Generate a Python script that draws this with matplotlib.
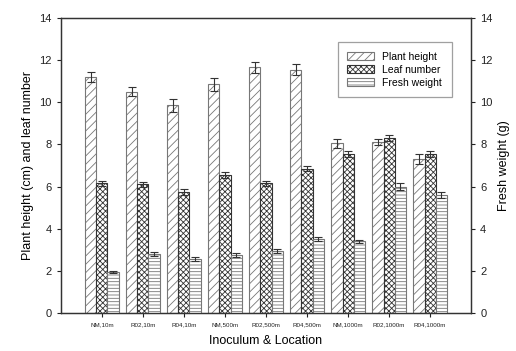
import matplotlib
matplotlib.use("Agg")
import matplotlib.pyplot as plt
import numpy as np

plt.rcParams['font.family'] = ['Liberation Sans', 'DejaVu Sans']
plt.rcParams['hatch.linewidth'] = 0.6

categories = ["NM,10m", "R02,10m", "R04,10m", "NM,500m", "R02,500m",
              "R04,500m", "NM,1000m", "R02,1000m", "R04,1000m"]
plant_height = [11.2, 10.5, 9.85, 10.85, 11.65, 11.55, 8.05, 8.1, 7.3]
plant_err = [0.25, 0.2, 0.3, 0.3, 0.25, 0.25, 0.2, 0.15, 0.25]
leaf_number = [6.15, 6.1, 5.75, 6.55, 6.15, 6.85, 7.55, 8.3, 7.55]
leaf_err = [0.12, 0.12, 0.15, 0.15, 0.12, 0.12, 0.15, 0.15, 0.15]
fresh_weight = [1.95, 2.8, 2.55, 2.75, 2.95, 3.5, 3.4, 6.0, 5.6]
fresh_err = [0.07, 0.1, 0.1, 0.08, 0.1, 0.1, 0.08, 0.15, 0.12]

x = np.arange(len(categories))
w = 0.27

fig = plt.figure(figsize=(5.16, 3.51), dpi=100)
ax = fig.add_axes([0.118, 0.108, 0.795, 0.841])
ax2 = ax.twinx()

ec = "#777777"
ekw = dict(ecolor="#333333", capsize=3, elinewidth=0.8, capthick=0.8)
ax.bar(x - w, plant_height, w, yerr=plant_err, color="white", edgecolor=ec,
       hatch="////", linewidth=0.8, label="Plant height", error_kw=ekw)
ax.bar(x, leaf_number, w, yerr=leaf_err, color="white", edgecolor="#333333",
       hatch="xxxxxx", linewidth=0.8, label="Leaf number", error_kw=ekw)
ax2.bar(x + w, fresh_weight, w, yerr=fresh_err, color="white", edgecolor=ec,
        hatch="-----", linewidth=0.8, label="Fresh weight", error_kw=ekw)

for a in (ax, ax2):
    a.set_ylim(0, 14)
    a.set_yticks(range(0, 15, 2))
    a.tick_params(labelsize=8, length=3, width=0.8, colors="#222222")
    for s in a.spines.values():
        s.set_linewidth(0.9)
        s.set_color("#333333")
ax.set_xlim(-1, 9)
ax.set_xticks(x)
ax.set_xticklabels(categories, fontsize=4.5)
ax.tick_params(axis="x", length=3)

ax.set_ylabel("Plant height (cm) and leaf number", fontsize=9)
ax2.set_ylabel("Fresh weight (g)", fontsize=9)
ax.set_xlabel("Inoculum & Location", fontsize=9, labelpad=6)

h1, l1 = ax.get_legend_handles_labels()
h2, l2 = ax2.get_legend_handles_labels()
leg = ax2.legend(h1 + h2, l1 + l2, loc="upper right",
                 bbox_to_anchor=(0.965, 0.935), fontsize=7.5, fancybox=False,
                 edgecolor="#888888", handlelength=2.6, handleheight=0.8,
                 borderpad=0.9, labelspacing=0.3)
leg.get_frame().set_linewidth(0.9)

fig.savefig("out.png", dpi=100)
